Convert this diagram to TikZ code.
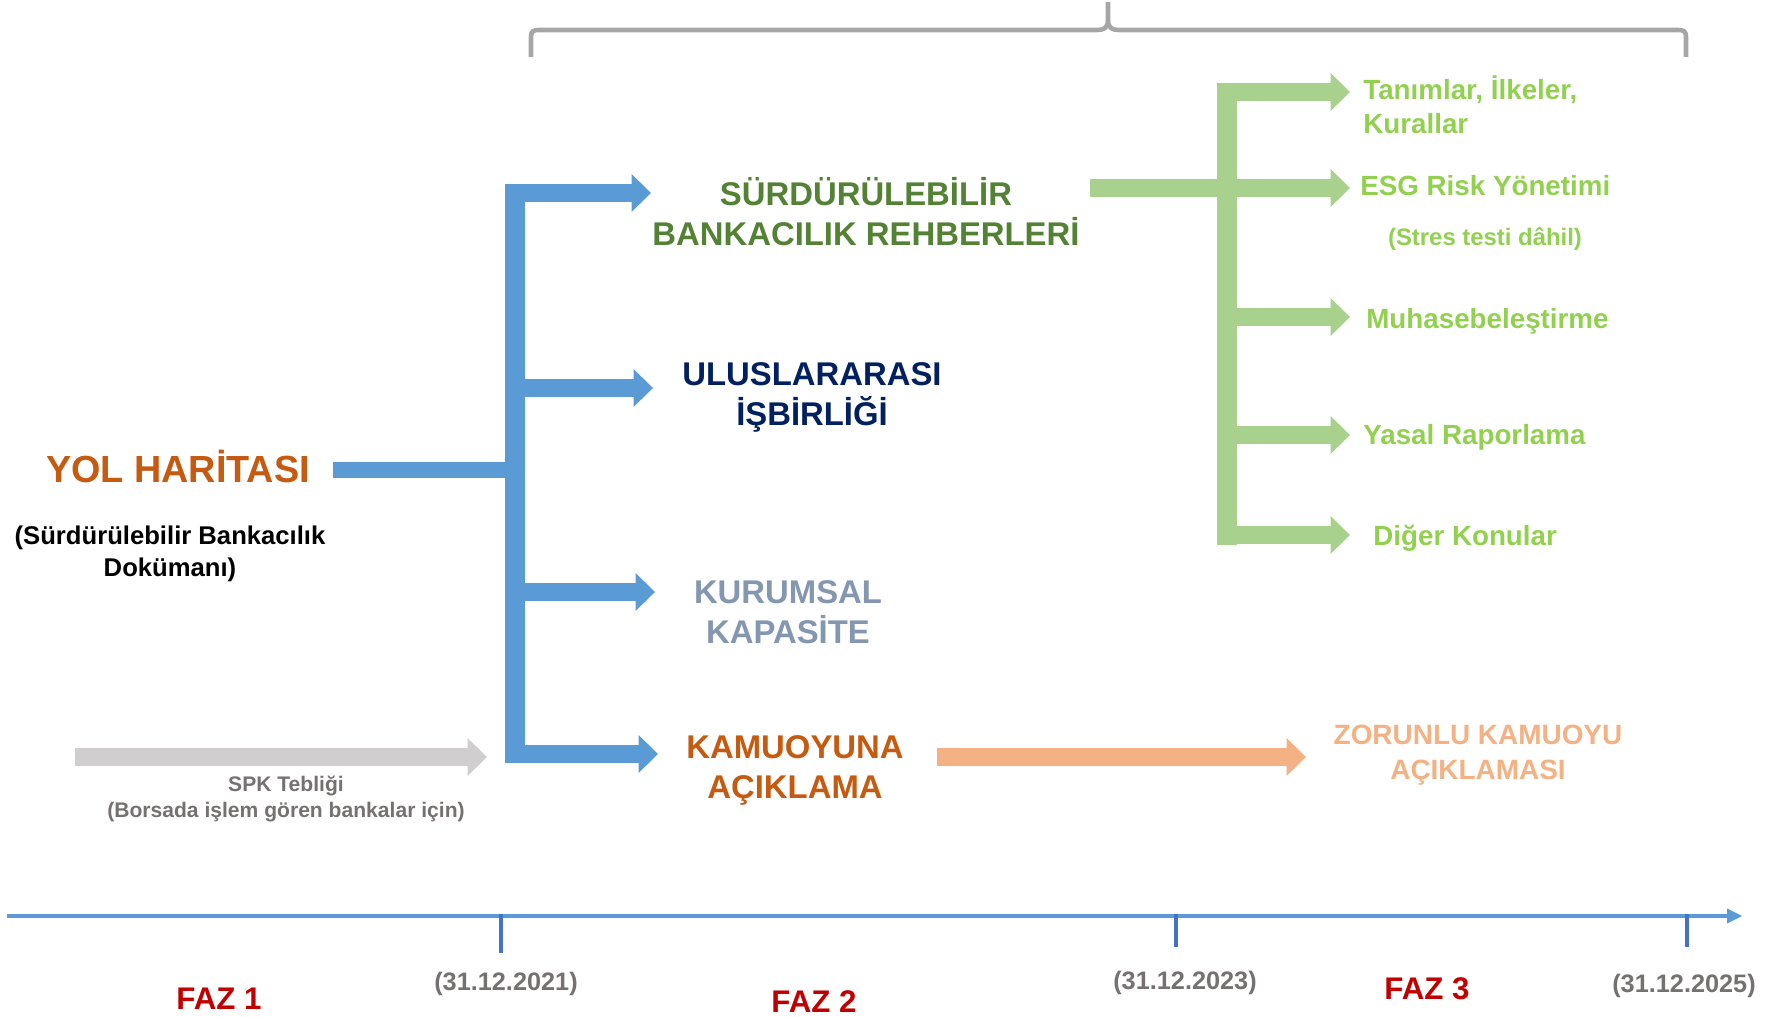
\documentclass[tikz,border=0pt]{standalone}
\usepackage{fontspec}
\setmainfont{Liberation Sans}
\usetikzlibrary{arrows.meta}
\definecolor{busblue}{RGB}{91,155,213}
\definecolor{tickblue}{RGB}{68,114,196}
\definecolor{arrowgreen}{RGB}{169,209,142}
\definecolor{itemgreen}{RGB}{146,208,80}
\definecolor{headgreen}{RGB}{84,130,53}
\definecolor{headnavy}{RGB}{0,32,96}
\definecolor{headslate}{RGB}{132,151,176}
\definecolor{headrust}{RGB}{197,90,17}
\definecolor{peach}{RGB}{244,177,131}
\definecolor{spkgray}{RGB}{208,206,206}
\definecolor{notegray}{RGB}{118,113,113}
\definecolor{fazred}{RGB}{192,0,0}
\definecolor{bracegray}{RGB}{166,166,166}

\begin{document}
\begin{tikzpicture}[
    x=0.02cm, y=-0.02cm,
    font=\bfseries,
    every node/.style={inner sep=0pt},
    fatArrow/.style={line width=10.8pt,
        -{Triangle[width=21.5pt, length=11pt, line width=0pt]}},
    headText/.style={font=\fontsize{18.7}{22.7}\selectfont\bfseries,
        align=center, anchor=base},
    itemText/.style={font=\fontsize{15.8}{19.3}\selectfont\bfseries,
        text=itemgreen, align=left, anchor=base west},
    dateLabel/.style={font=\fontsize{14.4}{17}\selectfont\bfseries,
        text=notegray, anchor=base},
    fazLabel/.style={font=\fontsize{17.8}{21}\selectfont\bfseries,
        text=fazred, anchor=base}
]
\useasboundingbox (0,0) rectangle (1778,1017);

% ============================================================
% Top brace
% ============================================================
\draw[bracegray, line width=2.6pt, line join=round]
    (531,57) -- (531,37) .. controls (531,31) and (533,30) .. (540,30)
    -- (1097,30) .. controls (1104,30) and (1108,28) .. (1108,20)
    -- (1108,2);
\draw[bracegray, line width=2.6pt, line join=round]
    (1686,57) -- (1686,37) .. controls (1686,31) and (1684,30) .. (1677,30)
    -- (1119,30) .. controls (1112,30) and (1108,28) .. (1108,20);

% ============================================================
% LEFT: road map
% ============================================================
% (multi-line nodes: base = last line)
\node[headText, text=headrust, font=\fontsize{21.5}{25}\selectfont\bfseries]
    (yol) at (178,482) {YOL HARİTASI};
\node[font=\fontsize{14.6}{18.1}\selectfont\bfseries, align=center, anchor=base]
    (yoldoc) at (170,576) {(Sürdürülebilir Bankacılık\\Dokümanı)};

% SPK arrow
\coordinate (spkStart) at (75,757);
\coordinate (spkEnd) at (487,757);
\draw[fatArrow, spkgray] (spkStart) -- (spkEnd);
\node[font=\fontsize{12}{14.7}\selectfont\bfseries, text=notegray,
    align=center, anchor=base]
    (spk) at (286,817) {SPK Tebliği\\(Borsada işlem gören bankalar için)};

% ============================================================
% MIDDLE: blue bus
% ============================================================
\coordinate (busTop) at (515,184);
\coordinate (busBot) at (515,763);
\coordinate (yolOut) at (333,470);
\coordinate (tipSBR) at (651,193);
\coordinate (tipUI)  at (653,388);
\coordinate (tipKK)  at (655,592);
\coordinate (tipKA)  at (658,754);

\draw[busblue, line width=11.3pt] (busTop) -- (busBot);
\draw[busblue, line width=9.6pt] (yolOut) -- (busTop |- yolOut);
\foreach \t in {tipSBR, tipUI, tipKK, tipKA}
    \draw[fatArrow, busblue] (busTop |- \t) -- (\t);

% Headings
\node[headText, text=headgreen] (sbr) at (866,245)
    {SÜRDÜRÜLEBİLİR\\BANKACILIK REHBERLERİ};
\node[headText, text=headnavy] (uis) at (812,425) {ULUSLARARASI\\İŞBİRLİĞİ};
\node[headText, text=headslate] (kk) at (788,643) {KURUMSAL\\KAPASİTE};
\node[headText, text=headrust] (ka) at (795,798) {KAMUOYUNA\\AÇIKLAMA};

% Disclosure arrow
\coordinate (kaOut) at (937,757);
\coordinate (zkIn) at (1306,757);
\draw[fatArrow, peach] (kaOut) -- (zkIn);
\node[font=\fontsize{15.9}{19.8}\selectfont\bfseries, text=peach,
    align=center, anchor=base]
    (zk) at (1478,779) {ZORUNLU KAMUOYU\\AÇIKLAMASI};

% ============================================================
% RIGHT: green bus
% ============================================================
\coordinate (gbusTop) at (1227,83);
\coordinate (gbusBot) at (1227,545);
\coordinate (gIn) at (1090,188);
\coordinate (tTan) at (1350,92);
\coordinate (tESG) at (1350,188);
\coordinate (tMuh) at (1350,317);
\coordinate (tYas) at (1350,435);
\coordinate (tDig) at (1350,535);

\draw[arrowgreen, line width=11.3pt] (gbusTop) -- (gbusBot);
\draw[fatArrow, arrowgreen] (gIn) -- (tESG);
\foreach \t in {tTan, tMuh, tYas, tDig}
    \draw[fatArrow, arrowgreen] (gbusTop |- \t) -- (\t);

\node[itemText] (tan) at (1363,133) {Tanımlar, İlkeler,\\Kurallar};
\node[itemText] (esg) at (1360,195) {ESG Risk Yönetimi};
\node[font=\fontsize{13.6}{16}\selectfont\bfseries, text=itemgreen, anchor=base]
    (stres) at (1485,245) {(Stres testi dâhil)};
\node[itemText] (muh) at (1366,328) {Muhasebeleştirme};
\node[itemText] (yas) at (1363,444) {Yasal Raporlama};
\node[itemText] (dig) at (1373,545) {Diğer Konular};

% ============================================================
% Time axis
% ============================================================
\coordinate (axL) at (7,916);
\coordinate (axR) at (1742,916);
\draw[busblue, line width=2.8pt,
    -{Triangle[width=8.5pt, length=8.5pt, line width=0pt]}] (axL) -- (axR);
\foreach \x/\b in {501/953, 1176/947, 1687/947}
    \draw[tickblue, line width=2.8pt] (\x,914) -- (\x,\b);

\node[dateLabel] (d21) at (506,990) {(31.12.2021)};
\node[dateLabel] (d23) at (1185,989) {(31.12.2023)};
\node[dateLabel] (d25) at (1684,992) {(31.12.2025)};

\node[fazLabel] (faz1) at (219,1009) {FAZ 1};
\node[fazLabel] (faz2) at (814,1012) {FAZ 2};
\node[fazLabel] (faz3) at (1427,999) {FAZ 3};

\end{tikzpicture}
\end{document}
